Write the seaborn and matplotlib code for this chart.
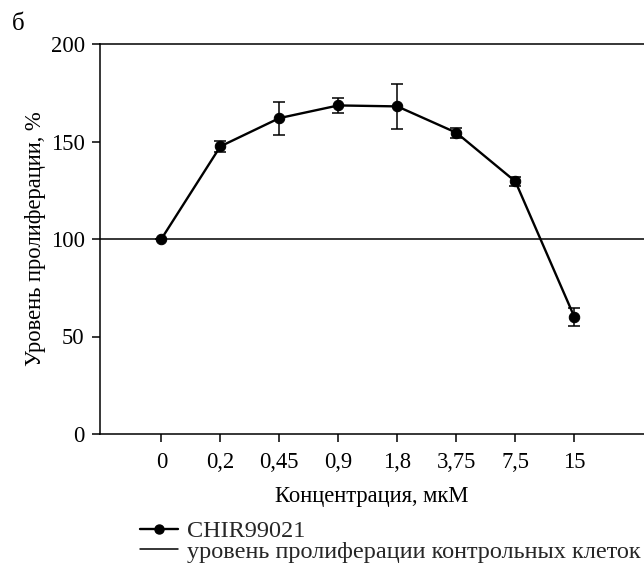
import numpy as np
import pandas as pd
import matplotlib
matplotlib.use("Agg")
import matplotlib.pyplot as plt
import seaborn as sns
from matplotlib.lines import Line2D

# Concentrations (µM) and proliferation level (% of control)
concentrations = ["0", "0,2", "0,45", "0,9", "1,8", "3,75", "7,5", "15"]
proliferation = [100, 147.5, 162, 168.5, 168, 154.5, 129.5, 60]
errors = [0, 3, 8.5, 4, 11.5, 2.5, 2.5, 4.5]
control_level = 100

y_ticks = [0, 50, 100, 150, 200]

sns.set_theme(style="white")
plt.rcParams["font.family"] = ["Liberation Serif", "DejaVu Serif"]

df = pd.DataFrame({
    "pos": np.arange(len(concentrations)),
    "value": proliferation,
    "err": errors,
})

fig = plt.figure(figsize=(6.44, 5.65), dpi=100)
ax = fig.add_axes([100 / 644, 1 - 434 / 565, 1 - 100 / 644, (434 - 44) / 565])

ax.axhline(control_level, color="black", lw=1.1, zorder=1)
sns.lineplot(data=df, x="pos", y="value", ax=ax, color="black", lw=1.7,
             marker="o", markersize=7.5, markeredgecolor="black", zorder=3)
ax.errorbar(df["pos"], df["value"], yerr=df["err"], fmt="none",
            ecolor="black", elinewidth=1.1, capsize=4.5, capthick=1.1, zorder=2)

ax.set_xlim(-1.04, 8.18)
ax.set_ylim(0, 200)
ax.set_xticks(df["pos"])
ax.set_xticklabels(concentrations)
ax.set_yticks(y_ticks)
ax.tick_params(axis="both", direction="out", length=6, width=1.1,
               labelsize=16.3, colors="black", pad=5, bottom=True, left=True)
ax.tick_params(axis="x", pad=7)

for side in ["left", "bottom", "top"]:
    ax.spines[side].set_color("black")
    ax.spines[side].set_linewidth(1.1)
ax.spines["right"].set_visible(False)

ax.set_xlabel("Концентрация, мкМ", fontsize=16.3, color="black", labelpad=9)
ax.set_ylabel("Уровень пролиферации, %", fontsize=16.3, color="black", labelpad=3)

fig.text(12 / 644, 1 - 30 / 565, "б", fontsize=18, color="black")

handles = [
    Line2D([0], [0], color="black", lw=1.7, marker="o", markersize=6.5),
    Line2D([0], [0], color="black", lw=1.1),
]
labels = ["CHIR99021", "уровень пролиферации контрольных клеток"]
fig.legend(handles, labels, loc="upper left",
           bbox_to_anchor=(140 / 644, 1 - 520 / 565), frameon=False,
           fontsize=17.5, handlelength=1.55, handletextpad=0.37,
           labelspacing=-0.05, borderaxespad=0, borderpad=0.0)

fig.savefig("out.png", dpi=100)
